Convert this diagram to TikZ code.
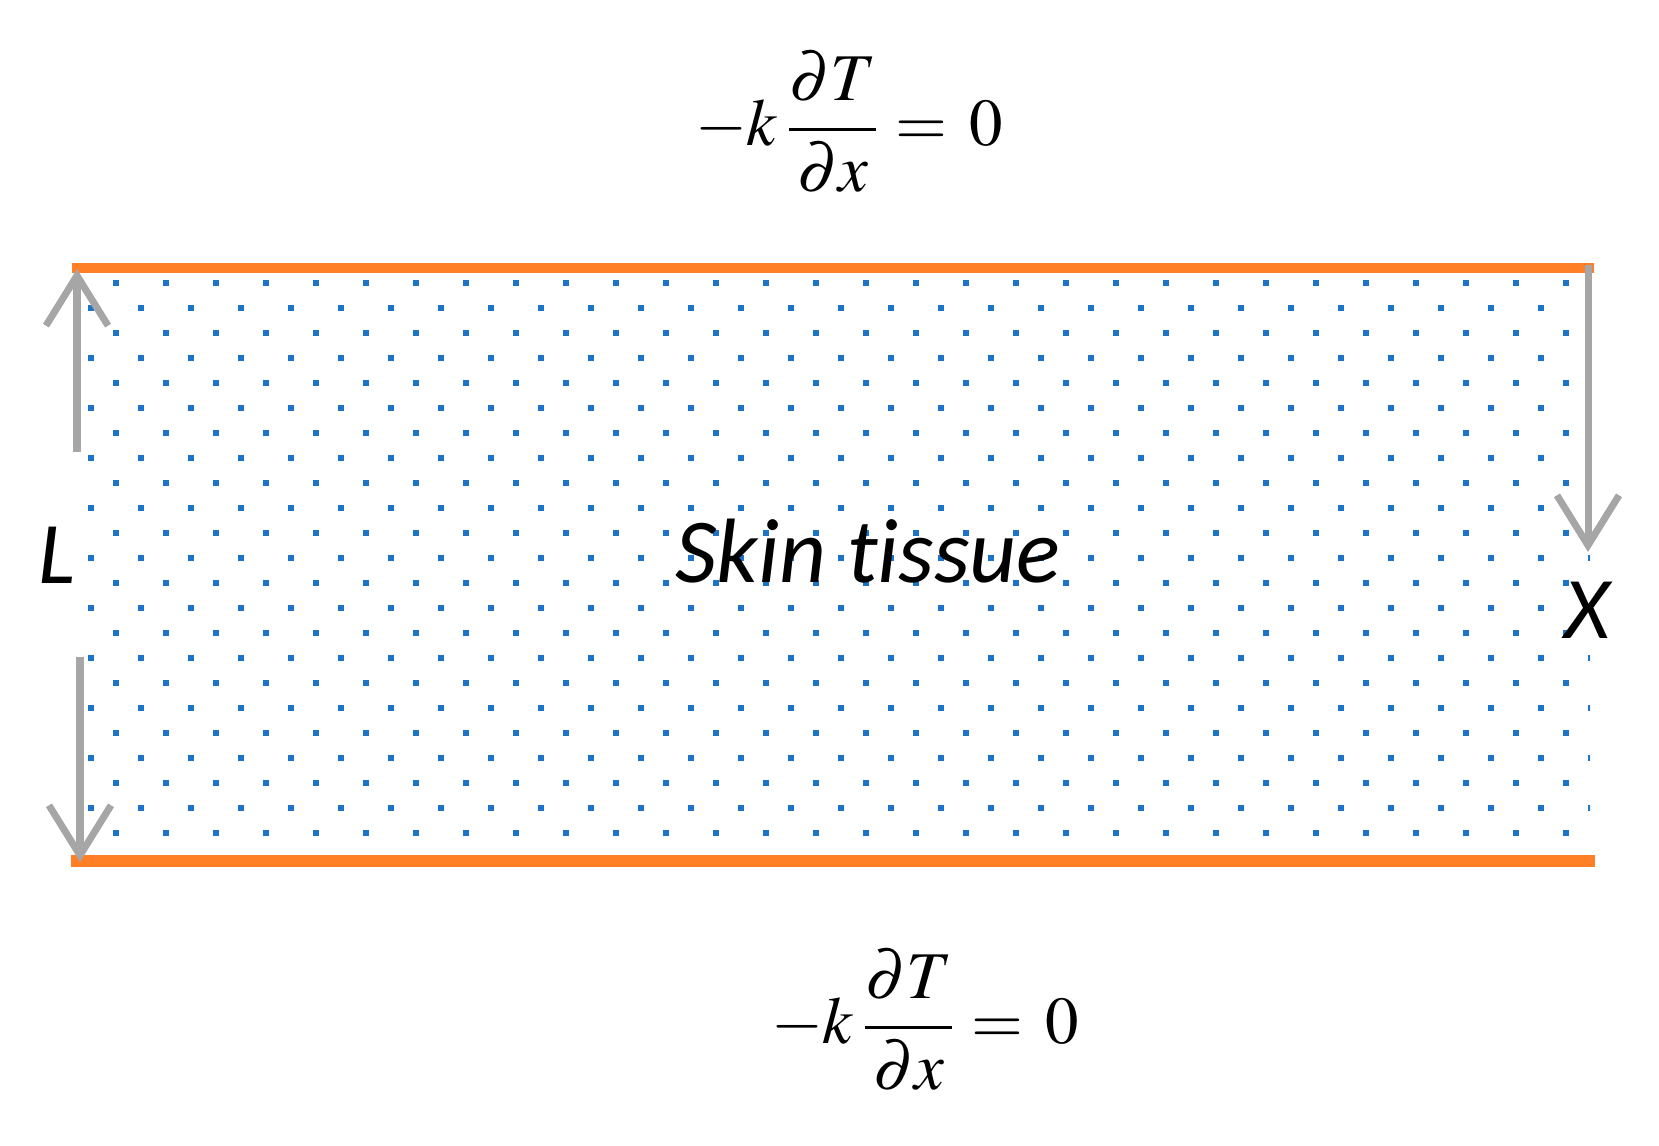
\documentclass[tikz,border=0pt]{standalone}
\usepackage{mathptmx}
\usepackage[no-math]{fontspec}
\newfontfamily\calibri[Ligatures = NoCommon]{Carlito}
\usetikzlibrary{arrows.meta}

\definecolor{bcorange}{RGB}{255,127,39}
\definecolor{dotblue}{RGB}{28,116,200}
\definecolor{arrowgrey}{RGB}{166,166,166}

\tikzset{
    bcline/.style = {draw = bcorange},
    lenarrow/.style = {draw = arrowgrey, line width = 0.07cm,
        -{Straight Barb[length = 0.5cm, width = 0.62cm]}},
    bclabel/.style = {inner sep = 0pt, font = \fontsize{19}{23}\selectfont},
    sidelabel/.style = {inner sep = 0pt, font = \calibri\itshape\fontsize{25}{30}\selectfont}
}

\begin{document}
\begin{tikzpicture}[x = 0.01cm, y = -0.01cm]
    \useasboundingbox (0,0) rectangle (1659,1146);

    % tissue dots
    \begin{scope}
        \clip (80,275) rectangle (1590,850);
        \foreach \row in {0,...,22}{
            \pgfmathsetmacro{\yy}{283 + 25*\row}
            \pgfmathsetmacro{\xs}{isodd(\row) ? 91 : 116}
            \foreach \col in {0,...,30}{
                \fill[dotblue] ({\xs + 50*\col - 3}, {\yy - 3}) rectangle ++(6,6);
            }
        }
    \end{scope}

    % boundaries
    \draw[bcline, line width = 0.1cm] (72,268) -- (1594,268);
    \draw[bcline, line width = 0.12cm] (71,861) -- (1595,861);

    % labels
    \node[bclabel] (topbc) at (849,122) {$\displaystyle -k\,\frac{\partial T}{\partial x} =\, 0$};
    \node[bclabel] (botbc) at (925,1020) {$\displaystyle -k\,\frac{\partial T}{\partial x} =\, 0$};
    \node[sidelabel, font = \calibri\itshape\fontsize{26}{30}\selectfont] (tissue) at (868,551) {Skin tissue};
    \node[sidelabel] (Llabel) at (57,555) {L};
    \node[sidelabel] (Xlabel) at (1587,610) {X};

    % thickness and depth arrows
    \coordinate (Lup1) at (77,452);
    \coordinate (Lup2) at (77,269);
    \coordinate (Ldn1) at (80,657);
    \coordinate (Ldn2) at (80,862);
    \coordinate (Xdn1) at (1588,265);
    \coordinate (Xdn2) at (1588,552);
    \draw[lenarrow] (Lup1) -- (Lup2);
    \draw[lenarrow] (Ldn1) -- (Ldn2);
    \draw[lenarrow] (Xdn1) -- (Xdn2);
\end{tikzpicture}
\end{document}
